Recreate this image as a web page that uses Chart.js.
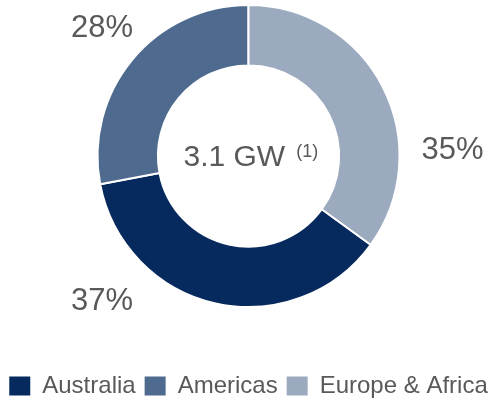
<!DOCTYPE html>
<html>
<head>
<meta charset="utf-8">
<script src="https://cdn.jsdelivr.net/npm/chart.js@4.4.1/dist/chart.umd.min.js"></script>
<style>
  html, body { margin: 0; padding: 0; background: #fff; }
  #wrap { width: 501px; height: 398px; position: relative; }
</style>
</head>
<body>
<div id="wrap"><canvas id="chart"></canvas></div>
<script>
// regions, in legend order
const regions = ['Australia', 'Americas', 'Europe & Africa'];
const shares = [37, 28, 35];
const colors = ['#062a5d', '#4e6b8f', '#9baabf'];
const totalLabel = '3.1 GW';
const footnote = '(1)';

const textGray = '#595959';
const fontFamily = '"Liberation Sans", Arial, sans-serif';

// where each % label sits, as multiples of the outer radius from the centre
const labelSpots = [[-0.97, 1.02], [-0.97, -0.785], [1.351, 0.02]];

const labelsPlugin = {
  id: 'ringLabels',
  afterDraw(chart) {
    const ctx = chart.ctx;
    const arcs = chart.getDatasetMeta(0).data;
    if (!arcs.length) return;
    const cx = arcs[0].x;
    const cy = arcs[0].y;
    const R = arcs[0].outerRadius;

    ctx.save();
    ctx.fillStyle = textGray;
    ctx.textBaseline = 'alphabetic';
    ctx.textAlign = 'center';
    ctx.font = '31px ' + fontFamily;
    shares.forEach((v, i) => {
      const [fx, fy] = labelSpots[i];
      ctx.fillText(v + '%', cx + fx * R, cy + fy * R);
    });

    // centre text with the footnote marker
    ctx.textAlign = 'left';
    ctx.font = '30px ' + fontFamily;
    const x0 = cx - 65;
    ctx.fillText(totalLabel, x0, cy + 10);
    const w = ctx.measureText(totalLabel).width;
    ctx.font = '18px ' + fontFamily;
    ctx.fillText(footnote, x0 + w + 11, cy + 1);
    ctx.restore();
  }
};

const ctx = document.getElementById('chart').getContext('2d');
new Chart(ctx, {
  type: 'doughnut',
  data: {
    labels: regions,
    datasets: [{
      data: shares,
      backgroundColor: colors,
      borderColor: '#ffffff',
      borderWidth: 2,
      hoverOffset: 0
    }]
  },
  options: {
    responsive: true,
    maintainAspectRatio: false,
    animation: false,
    rotation: 126,
    radius: 151,
    cutout: '60%',
    layout: { padding: { top: 0, bottom: -10, left: 0, right: 4 } },
    plugins: {
      tooltip: { enabled: false },
      legend: {
        position: 'bottom',
        // empty title only used as spacer between ring and legend row
        title: { display: true, text: '', font: { size: 10 }, padding: { top: 0, bottom: 41 } },
        labels: {
          boxWidth: 21,
          boxHeight: 19,
          padding: 9,
          color: textGray,
          font: { size: 24, family: fontFamily },
          generateLabels(chart) {
            return chart.data.labels.map((l, i) => ({
              text: l,
              fillStyle: colors[i],
              strokeStyle: colors[i],
              lineWidth: 0,
              fontColor: textGray,
              index: i,
              hidden: false
            }));
          }
        }
      }
    }
  },
  plugins: [labelsPlugin]
});
</script>
</body>
</html>
